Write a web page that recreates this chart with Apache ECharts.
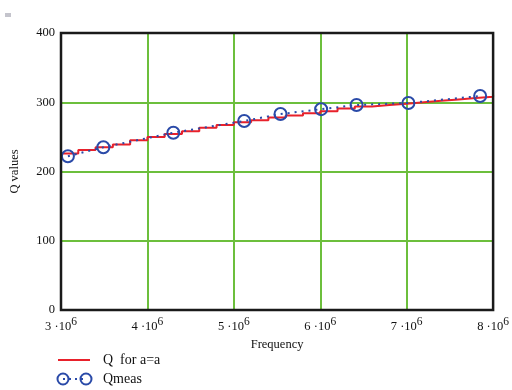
<!DOCTYPE html>
<html><head><meta charset="utf-8">
<script src="https://cdn.jsdelivr.net/npm/echarts@6/dist/echarts.min.js"></script>
<style>html,body{margin:0;padding:0;background:#fff}#c{width:512px;height:390px}</style>
</head><body><div id="c"></div>
<script>
// Q for a=a (step curve)
const qFreq = [3.0,3.2,3.4,3.6,3.8,4.0,4.2,4.4,4.6,4.8,5.0,5.2,5.4,5.6,5.8,6.0,6.2,6.4,6.6,6.8,7.0,7.2,7.4,7.6,7.8,8.0];
const qVals = [226,231,235,239,245,250,254,258,263,267,271,274,278,281,284,287,291,294,296,298,300,302,304,306,308,310];
// Qmeas
const measFreq = [3.08,3.49,4.30,5.12,5.54,6.01,6.42,7.02,7.85];
const measVals = [222,235,256,273,283,290,296,299,309];
const yTicks = [0,100,200,300,400];

const F = 'Liberation Serif, Times New Roman, serif';
const chart = echarts.init(document.getElementById('c'));
chart.setOption({
  animation:false,
  grid:{left:59,right:16,top:33,bottom:80,show:true,borderColor:'#1a1a1a',borderWidth:2.5,z:5},
  xAxis:{type:'value',min:3e6,max:8e6,interval:1e6,
    name:'Frequency',nameLocation:'middle',nameGap:26,
    nameTextStyle:{fontFamily:F,fontSize:12.5,color:'#111'},
    axisLine:{show:false},axisTick:{show:false},
    splitLine:{show:true,showMinLine:false,showMaxLine:false,lineStyle:{color:'#6cbf3c',width:2}},
    axisLabel:{margin:6,fontFamily:F,fontSize:12.5,color:'#111',
      formatter:v=>(v/1e6)+' ·10{s|6}',
      rich:{s:{fontFamily:F,fontSize:11.5,verticalAlign:'top',padding:[0,0,10,0],color:'#111'}}}
  },
  yAxis:{type:'value',min:0,max:400,interval:100,
    name:'Q values',nameLocation:'middle',nameGap:40,
    nameTextStyle:{fontFamily:F,fontSize:12.5,color:'#111'},
    axisLine:{show:false},axisTick:{show:false},
    splitLine:{show:true,showMinLine:false,showMaxLine:false,lineStyle:{color:'#6cbf3c',width:2}},
    axisLabel:{margin:6,fontFamily:F,fontSize:12.5,color:'#111',
      formatter:v=>yTicks.includes(v)?String(v):''}
  },
  series:[
    {type:'line',data:measFreq.map((f,i)=>[f*1e6,measVals[i]]),
     symbol:'circle',symbolSize:12,showSymbol:true,
     itemStyle:{color:'rgba(0,0,0,0)',borderColor:'#2a4aa8',borderWidth:2},
     lineStyle:{color:'#2a4aa8',width:2,type:[2,5]},z:3},
    {type:'line',step:'end',data:qFreq.map((f,i)=>[f*1e6,qVals[i]]),
     symbol:'none',lineStyle:{color:'#e8212b',width:2},z:2}
  ],
  graphic:[
    {type:'rect',shape:{x:5,y:13,width:6,height:4},style:{fill:'#c4c4cc'}},
    {type:'line',shape:{x1:58,y1:360,x2:90,y2:360},style:{stroke:'#e8212b',lineWidth:2}},
    {type:'text',x:103,y:353,style:{text:'Q  for a=a',font:'14px '+F,fill:'#111'}},
    {type:'line',shape:{x1:63,y1:379,x2:86,y2:379},style:{stroke:'#2a4aa8',lineWidth:2,lineDash:[2,4]}},
    {type:'circle',shape:{cx:63,cy:379,r:5.5},style:{fill:'none',stroke:'#2a4aa8',lineWidth:2}},
    {type:'circle',shape:{cx:86,cy:379,r:5.5},style:{fill:'none',stroke:'#2a4aa8',lineWidth:2}},
    {type:'text',x:103,y:372,style:{text:'Qmeas',font:'14px '+F,fill:'#111'}}
  ]
});
</script></body></html>
